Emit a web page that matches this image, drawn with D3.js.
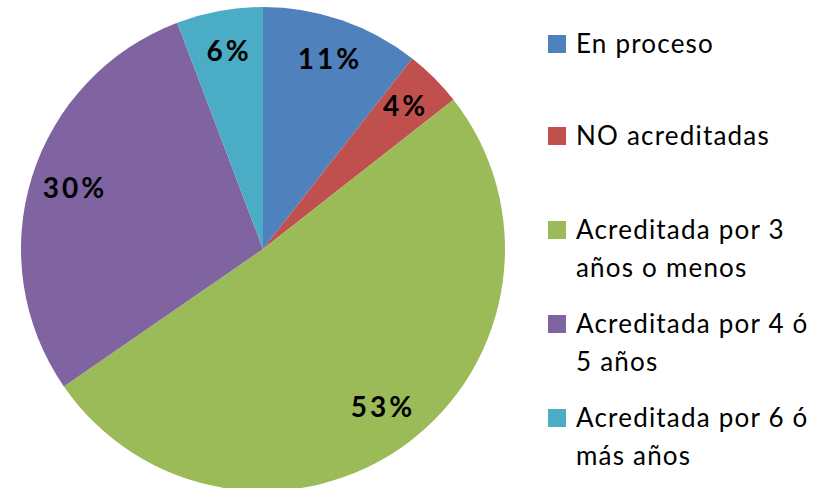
<!DOCTYPE html>
<html>
<head>
<meta charset="utf-8">
<script src="https://cdn.jsdelivr.net/npm/d3@7"></script>
<style>
    body { margin: 0; background: #fff; }
</style>
</head>
<body>
<div id="canvas"></div>
<script>
"use strict"

// DATA

let categories = ["En proceso", "NO acreditadas", "Acreditada por 3 años o menos", "Acreditada por 4 ó 5 años", "Acreditada por 6 ó más años"];
let legendLines = [["En proceso"], ["NO acreditadas"], ["Acreditada por 3", "años o menos"], ["Acreditada por 4 ó", "5 años"], ["Acreditada por 6 ó", "más años"]];
let values = [11, 4, 53, 30, 6];
let colors = ["#4f81bd", "#c0504d", "#9bbb59", "#8064a2", "#4bacc6"];


// CONFIGURATION

let svgWidth = 825;
let svgHeight = 488;
let cx = 263;
let cy = 249;
let radius = 242;
let labelRadius = 199;


// CREATE SVG

let svg = d3.select("#canvas")
    .append("svg")
    .attr("width", svgWidth)
    .attr("height", svgHeight)
    .style("font-family", "Lato, 'Open Sans', sans-serif");

let dataset = categories.map(function(c, i) {
    return { name: c, value: values[i], color: colors[i] };
});

let pie = d3.pie()
    .sort(null)
    .value(function(d) { return d.value; });

let arc = d3.arc()
    .innerRadius(0)
    .outerRadius(radius);

let labelArc = d3.arc()
    .innerRadius(labelRadius)
    .outerRadius(labelRadius);

let g = svg.append("g")
    .attr("transform", "translate(" + cx + "," + cy + ")");


// DRAW SLICES

g.selectAll("path.slice")
    .data(pie(dataset))
    .join("path")
    .attr("class", "slice")
    .attr("d", arc)
    .attr("fill", function(d) { return d.data.color; });


// SLICE LABELS

g.selectAll("text.label")
    .data(pie(dataset))
    .join("text")
    .attr("class", "label")
    .attr("transform", function(d) {
        let c = labelArc.centroid(d);
        return "translate(" + (c[0] + 2) + "," + (c[1] - 2) + ")";
    })
    .attr("text-anchor", "middle")
    .attr("dy", "0.36em")
    .style("font-size", "28px")
    .style("font-weight", "bold")
    .style("letter-spacing", "3px")
    .attr("fill", "#000")
    .text(function(d) { return d.data.value + "%"; });


// LEGEND

let legendY = [44, 136, 230, 324, 418];
let lineGap = 38;

let legend = svg.selectAll("g.legendItem")
    .data(dataset)
    .join("g")
    .attr("class", "legendItem")
    .attr("transform", function(d, i) { return "translate(548," + legendY[i] + ")"; });

legend.append("rect")
    .attr("x", 0)
    .attr("y", -9)
    .attr("width", 18)
    .attr("height", 18)
    .attr("fill", function(d) { return d.color; });

legend.each(function(d, i) {
    let t = d3.select(this).append("text")
        .attr("x", 28)
        .attr("y", 9)
        .style("font-size", "26px")
        .style("letter-spacing", "1.2px")
        .attr("fill", "#000");
    legendLines[i].forEach(function(line, j) {
        t.append("tspan")
            .attr("x", 28)
            .attr("y", 9 + j * lineGap)
            .text(line);
    });
});
</script>
</body>
</html>
